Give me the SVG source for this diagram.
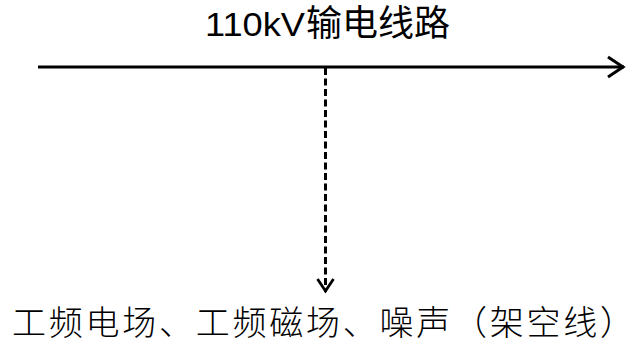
<svg xmlns="http://www.w3.org/2000/svg" width="638" height="345" viewBox="0 0 638 345">
<style>
.title{font-family:"Liberation Sans","Noto Sans CJK SC",sans-serif;font-size:33px;fill:#000}
.cjk{font-size:36px}
.label{font-family:"Liberation Serif","Noto Sans CJK SC",serif;font-size:34px;fill:#000;font-weight:300}
.line{stroke:#000;fill:none;stroke-width:3}
.dash{stroke:#000;fill:none;stroke-width:3;stroke-dasharray:7 3.5}
</style>
<defs>
<marker id="chev" markerUnits="userSpaceOnUse" markerWidth="24" markerHeight="26" refX="20" refY="12" orient="auto">
<path d="M4,2 L19,12 L4,22" fill="none" stroke="#000" stroke-width="3"/>
</marker>
<marker id="chev2" markerUnits="userSpaceOnUse" markerWidth="20" markerHeight="22" refX="16" refY="10" orient="auto">
<path d="M3,2 L15,10 L3,18" fill="none" stroke="#000" stroke-width="2.8"/>
</marker>
</defs>
<g id="connectors">
<line class="line" x1="38" y1="67" x2="624" y2="67" marker-end="url(#chev)"/>
<line class="dash" x1="325.5" y1="68" x2="325.5" y2="292" marker-end="url(#chev2)"/>
</g>
<g id="line-node">
<text class="title" x="205" y="36"><tspan textLength="100" lengthAdjust="spacingAndGlyphs">110kV</tspan><tspan class="cjk" x="306">输电线路</tspan></text>
</g>
<g id="impact-node">
<text class="label" x="12" y="335" textLength="622" lengthAdjust="spacing">工频电场、工频磁场、噪声（架空线）</text>
</g>
</svg>
